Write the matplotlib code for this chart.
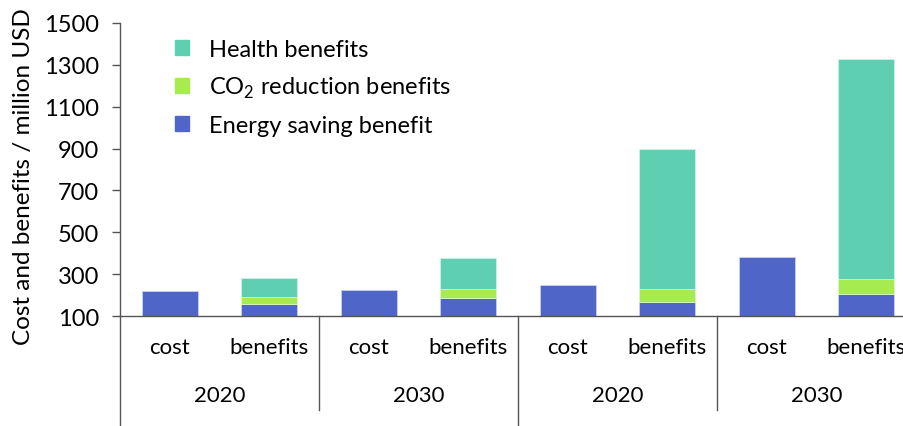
import numpy as np
import matplotlib
matplotlib.use("Agg")
import matplotlib.pyplot as plt
from matplotlib.patches import Patch

plt.rcParams['font.family'] = ['Lato', 'DejaVu Sans']
plt.rcParams['mathtext.fontset'] = 'custom'
plt.rcParams['mathtext.rm'] = 'Lato'

# data
categories = ['cost', 'benefits'] * 4
years = ['2020', '2030', '2020', '2030']
cost = [220, 0, 226, 0, 247, 0, 383, 0]
energy = [0, 156, 0, 188, 0, 166, 0, 203]
co2 = [0, 35, 0, 43, 0, 65, 0, 73]
health = [0, 90, 0, 145, 0, 666, 0, 1052]

blue = '#4F66C8'
green = '#A6EB50'
teal = '#5ECFB1'
axcol = '#555555'

fig = plt.figure(figsize=(9.04, 4.27), dpi=100)
ax = fig.add_axes([120/904, 110/427, 796/904, 293/427])

x = np.arange(len(categories)) + 0.5
w = 0.565
ax.bar(x, cost, w, color=blue, edgecolor='#c8d0f0', linewidth=0.6)
ax.bar(x, energy, w, color=blue, edgecolor='#c8d0f0', linewidth=0.6)
b1 = np.array(energy)
ax.bar(x, co2, w, bottom=b1, color=green, edgecolor='#e0f5c8', linewidth=0.6)
b2 = b1 + np.array(co2)
ax.bar(x, health, w, bottom=b2, color=teal, edgecolor='#d0f0e6', linewidth=0.6)

ax.set_xlim(0, 8)
ax.set_ylim(100, 1500)
ax.set_yticks(np.arange(100, 1501, 200))
ax.tick_params(axis='y', labelsize=17, length=6, width=1, color=axcol, pad=9)
ax.set_xticks([])
for s in ['top', 'right']:
    ax.spines[s].set_visible(False)
ax.spines['left'].set_color(axcol)
ax.spines['bottom'].set_color(axcol)
ax.spines['left'].set_linewidth(1)
ax.spines['bottom'].set_linewidth(1)

ax.set_ylabel('Cost and benefits / million USD', fontsize=17.5)
ax.yaxis.set_label_coords(-0.108, 0.48)

# hierarchical category axis
tr = ax.get_xaxis_transform()
for gx in [0, 4]:
    ax.plot([gx, gx], [0, -0.40], transform=tr, color=axcol, lw=1, clip_on=False)
for gx in [2, 6]:
    ax.plot([gx, gx], [0, -0.321], transform=tr, color=axcol, lw=1, clip_on=False)
for xi, c in zip(x, categories):
    ax.text(xi, -0.106, c, transform=tr, ha='center', va='center', fontsize=16)
for i, yr in enumerate(years):
    ax.text(2*i + 1, -0.27, yr, transform=tr, ha='center', va='center', fontsize=16)

handles = [Patch(color=teal), Patch(color=green), Patch(color=blue)]
labels = ['Health benefits', 'CO$_\\mathrm{2}$ reduction benefits', 'Energy saving benefit']
ax.legend(handles, labels, loc='upper left', bbox_to_anchor=(0.069, 0.945),
          frameon=False, fontsize=17, handlelength=0.6, handleheight=0.6,
          handletextpad=0.85, labelspacing=0.62, borderpad=0, borderaxespad=0)

fig.savefig('out.png', dpi=100)
